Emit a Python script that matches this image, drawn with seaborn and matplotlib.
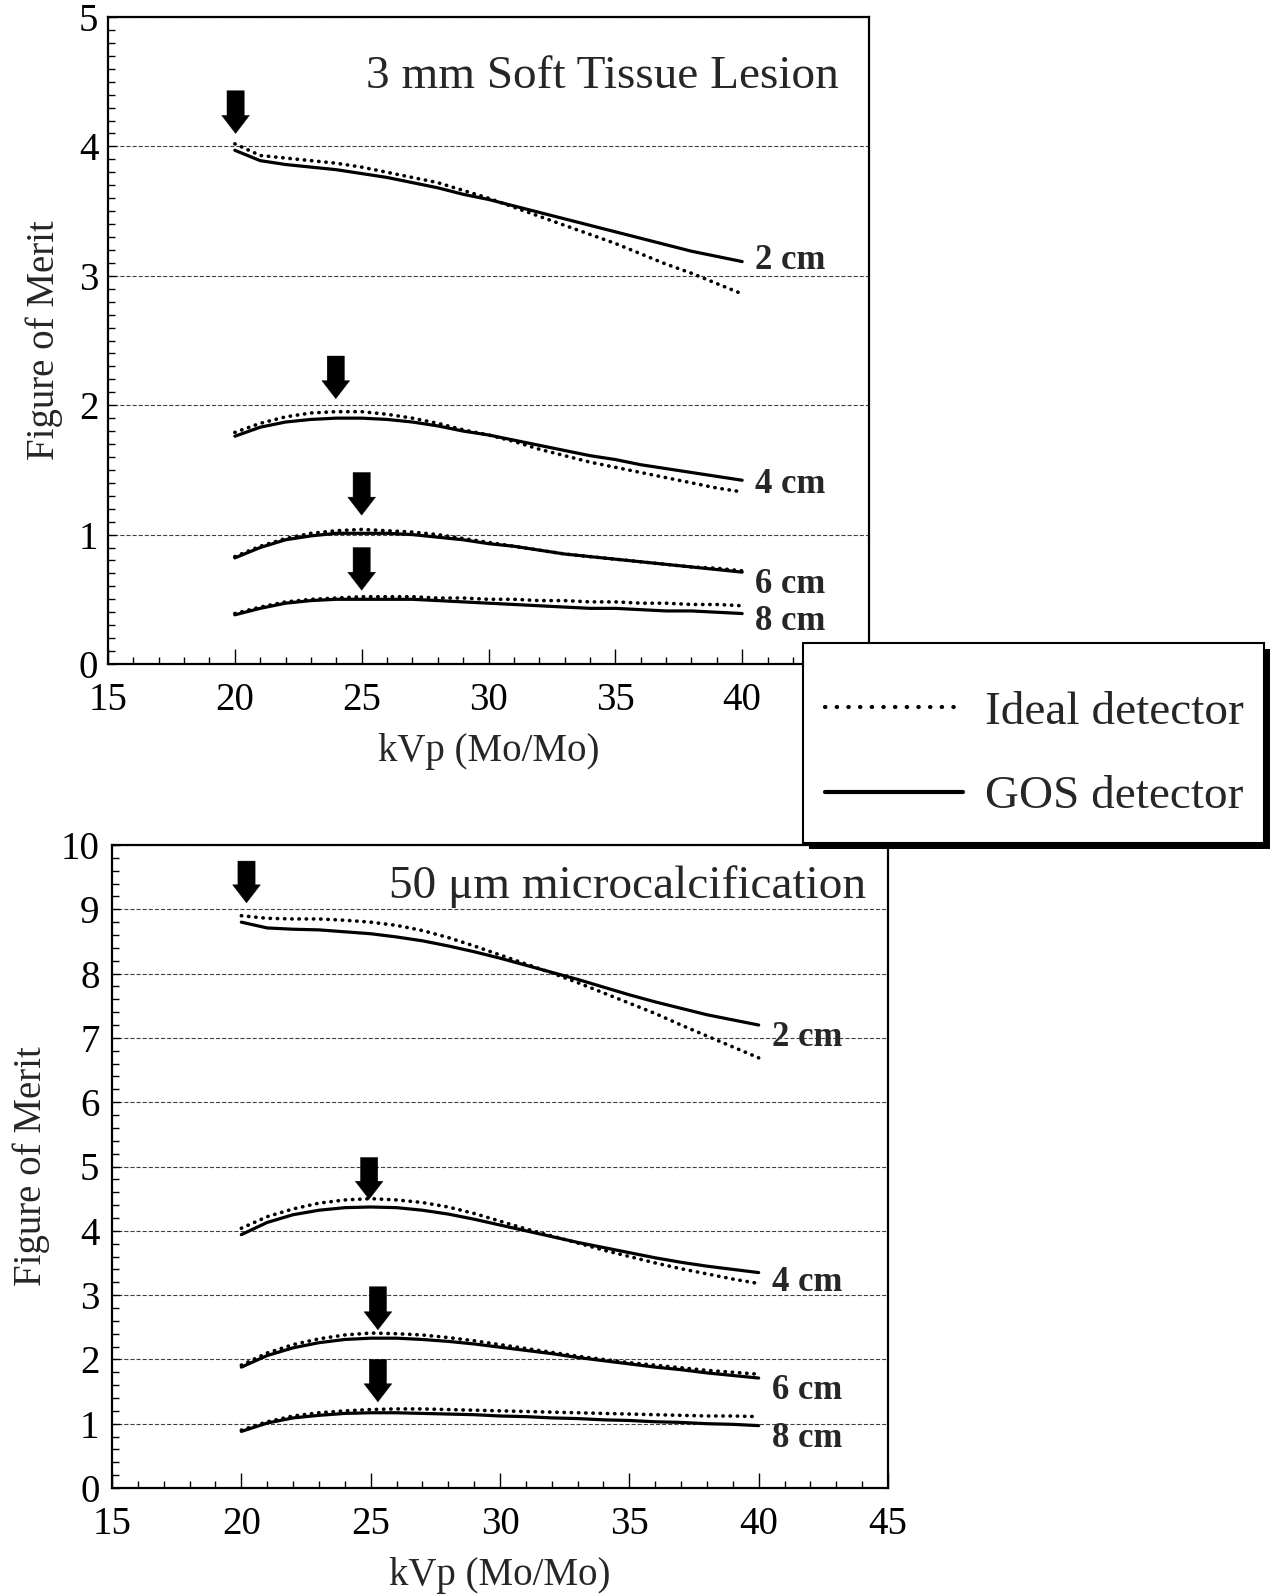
import numpy as np
import pandas as pd
import matplotlib
matplotlib.use("Agg")
import matplotlib.pyplot as plt
import seaborn as sns
from matplotlib.lines import Line2D
from matplotlib.patches import Rectangle
from matplotlib.transforms import IdentityTransform
from matplotlib.ticker import MultipleLocator

# ---------------- data ----------------
kvp = list(range(20, 41))
thicknesses = ["2 cm", "4 cm", "6 cm", "8 cm"]
detectors = ["Ideal detector", "GOS detector"]

# 3 mm soft tissue lesion
lesion_ideal_2cm = [4.02, 3.93, 3.91, 3.89, 3.87, 3.84, 3.80, 3.76, 3.72, 3.66, 3.60,
                    3.53, 3.46, 3.39, 3.32, 3.25, 3.17, 3.09, 3.02, 2.94, 2.86]
lesion_gos_2cm = [3.97, 3.89, 3.86, 3.84, 3.82, 3.79, 3.76, 3.72, 3.68, 3.63, 3.59,
                  3.54, 3.49, 3.44, 3.39, 3.34, 3.29, 3.24, 3.19, 3.15, 3.11]
lesion_ideal_4cm = [1.79, 1.86, 1.91, 1.94, 1.95, 1.95, 1.93, 1.90, 1.86, 1.81, 1.77,
                    1.72, 1.66, 1.61, 1.56, 1.52, 1.48, 1.44, 1.40, 1.36, 1.33]
lesion_gos_4cm = [1.76, 1.83, 1.87, 1.89, 1.90, 1.90, 1.89, 1.87, 1.84, 1.80, 1.77,
                  1.73, 1.69, 1.65, 1.61, 1.58, 1.54, 1.51, 1.48, 1.45, 1.42]
lesion_ideal_6cm = [0.83, 0.91, 0.97, 1.01, 1.03, 1.04, 1.03, 1.02, 1.00, 0.97, 0.94,
                    0.91, 0.88, 0.85, 0.83, 0.81, 0.79, 0.77, 0.75, 0.74, 0.72]
lesion_gos_6cm = [0.82, 0.90, 0.96, 0.99, 1.01, 1.01, 1.01, 1.00, 0.98, 0.96, 0.93,
                  0.91, 0.88, 0.85, 0.83, 0.81, 0.79, 0.77, 0.75, 0.73, 0.71]
lesion_ideal_8cm = [0.39, 0.44, 0.48, 0.50, 0.51, 0.52, 0.52, 0.52, 0.51, 0.51, 0.50,
                    0.50, 0.49, 0.49, 0.48, 0.48, 0.47, 0.47, 0.46, 0.46, 0.45]
lesion_gos_8cm = [0.38, 0.43, 0.47, 0.49, 0.50, 0.50, 0.50, 0.50, 0.49, 0.48, 0.47,
                  0.46, 0.45, 0.44, 0.43, 0.43, 0.42, 0.41, 0.41, 0.40, 0.39]

# 50 um microcalcification
calc_ideal_2cm = [8.90, 8.86, 8.85, 8.85, 8.83, 8.80, 8.75, 8.67, 8.56, 8.43, 8.29,
                  8.15, 8.01, 7.86, 7.70, 7.54, 7.38, 7.20, 7.03, 6.86, 6.69]
calc_gos_2cm = [8.80, 8.71, 8.69, 8.68, 8.65, 8.62, 8.57, 8.51, 8.43, 8.34, 8.24,
                8.13, 8.02, 7.91, 7.79, 7.67, 7.56, 7.46, 7.36, 7.28, 7.20]
calc_ideal_4cm = [4.04, 4.22, 4.34, 4.43, 4.48, 4.50, 4.48, 4.44, 4.37, 4.27, 4.15,
                  4.03, 3.92, 3.81, 3.70, 3.60, 3.50, 3.41, 3.33, 3.25, 3.18]
calc_gos_4cm = [3.94, 4.13, 4.25, 4.32, 4.36, 4.37, 4.36, 4.32, 4.26, 4.18, 4.09,
                4.00, 3.91, 3.82, 3.74, 3.66, 3.58, 3.51, 3.45, 3.40, 3.35]
calc_ideal_6cm = [1.91, 2.10, 2.23, 2.32, 2.38, 2.41, 2.40, 2.38, 2.34, 2.29, 2.23,
                  2.17, 2.11, 2.05, 2.00, 1.95, 1.91, 1.87, 1.83, 1.80, 1.77]
calc_gos_6cm = [1.88, 2.06, 2.18, 2.26, 2.31, 2.33, 2.33, 2.31, 2.28, 2.24, 2.19,
                2.14, 2.09, 2.03, 1.98, 1.93, 1.88, 1.84, 1.79, 1.75, 1.71]
calc_ideal_8cm = [0.90, 1.03, 1.12, 1.17, 1.20, 1.22, 1.23, 1.23, 1.22, 1.21, 1.20,
                  1.19, 1.18, 1.17, 1.16, 1.15, 1.14, 1.13, 1.12, 1.12, 1.11]
calc_gos_8cm = [0.88, 1.01, 1.09, 1.13, 1.16, 1.17, 1.17, 1.16, 1.15, 1.14, 1.12,
                1.11, 1.09, 1.08, 1.06, 1.05, 1.03, 1.02, 1.00, 0.99, 0.97]

# optimum kVp arrows (x, tip value, tail value)
lesion_arrow_x = [20.03, 23.98, 25.0, 25.0]
lesion_arrow_tip = [4.10, 2.05, 1.15, 0.57]
lesion_arrow_tail = [4.43, 2.38, 1.48, 0.90]
calc_arrow_x = [20.2, 24.94, 25.28, 25.28]
calc_arrow_tip = [9.10, 4.49, 2.46, 1.34]
calc_arrow_tail = [9.75, 5.14, 3.13, 2.00]

# thickness label heights (baseline)
lesion_label_y = [3.05, 1.32, 0.55, 0.26]
calc_label_y = [6.88, 3.06, 1.38, 0.64]

lesion_title = "3 mm Soft Tissue Lesion"
calc_title = "50 \u03bcm microcalcification"

# ---------------- build table ----------------
rows = []
series = {
    ("lesion", "Ideal detector"): [lesion_ideal_2cm, lesion_ideal_4cm, lesion_ideal_6cm, lesion_ideal_8cm],
    ("lesion", "GOS detector"): [lesion_gos_2cm, lesion_gos_4cm, lesion_gos_6cm, lesion_gos_8cm],
    ("calc", "Ideal detector"): [calc_ideal_2cm, calc_ideal_4cm, calc_ideal_6cm, calc_ideal_8cm],
    ("calc", "GOS detector"): [calc_gos_2cm, calc_gos_4cm, calc_gos_6cm, calc_gos_8cm],
}
for (panel, det), lists in series.items():
    for th, vals in zip(thicknesses, lists):
        for k, v in zip(kvp, vals):
            rows.append(dict(panel=panel, detector=det, thickness=th, kVp=k, fom=v))
df = pd.DataFrame(rows)

# ---------------- style ----------------
sns.set_style("ticks")
plt.rcParams["font.family"] = ["Liberation Serif", "DejaVu Serif"]
plt.rcParams["lines.dash_capstyle"] = "round"
plt.rcParams["lines.solid_capstyle"] = "round"

W, H = 1270, 1596
fig = plt.figure(figsize=(W / 100, H / 100), dpi=100)
fig.patch.set_facecolor("white")

ax1 = fig.add_axes([108 / W, 1 - 664 / H, 761 / W, 647 / H])
ax2 = fig.add_axes([112 / W, 1 - 1488 / H, 776 / W, 643 / H])

dash_map = {"Ideal detector": (0.1, 1.9), "GOS detector": ""}
size_map = {"Ideal detector": 2.6, "GOS detector": 2.3}

panels = [
    (ax1, "lesion", 5, 0.1, lesion_title, 43.8, 4.45, lesion_arrow_x, lesion_arrow_tip,
     lesion_arrow_tail, lesion_label_y, 7, -0.059),
    (ax2, "calc", 10, 0.2, calc_title, 44.15, 9.17, calc_arrow_x, calc_arrow_tip,
     calc_arrow_tail, calc_label_y, 9, -0.080),
]

for (ax, key, ymax, yminor, title, tx, ty, ax_x, ax_tip, ax_tail, lab_y, ypad, ylx) in panels:
    sub = df[df.panel == key]
    sns.lineplot(data=sub, x="kVp", y="fom", style="detector", size="detector",
                 units="thickness", estimator=None, color="black", dashes=dash_map,
                 sizes=size_map, legend=False, ax=ax, style_order=detectors,
                 size_order=detectors)
    ax.set_xlim(15, 45)
    ax.set_ylim(0, ymax)
    ax.xaxis.set_major_locator(MultipleLocator(5))
    ax.xaxis.set_minor_locator(MultipleLocator(1))
    ax.yaxis.set_major_locator(MultipleLocator(1))
    ax.yaxis.set_minor_locator(MultipleLocator(yminor))
    ax.grid(axis="y", which="major", linestyle=(0, (3, 2.5)), linewidth=0.8, color="0.25")
    ax.set_axisbelow(True)
    for s in ax.spines.values():
        s.set_visible(True)
        s.set_linewidth(1.6)
        s.set_color("black")
    ax.tick_params(axis="both", which="both", direction="in", labelsize=28, color="black",
                   labelcolor="black")
    ax.tick_params(axis="x", which="major", length=11, width=1.0, pad=13)
    ax.tick_params(axis="x", which="minor", length=5, width=1.0)
    ax.tick_params(axis="y", which="major", length=6, width=1.0, pad=ypad)
    ax.tick_params(axis="y", which="minor", length=5, width=1.0)
    ax.set_xlabel("kVp (Mo/Mo)", fontsize=28, labelpad=10)
    ax.set_ylabel("Figure of Merit", fontsize=28)
    ax.yaxis.set_label_coords(ylx, 0.5)
    ax.text(tx, ty, title, ha="right", va="baseline", fontsize=34)
    for th, ly in zip(thicknesses, lab_y):
        ax.text(40.5, ly, th, ha="left", va="baseline", fontsize=25, fontweight="bold")
    for x, tip, tail in zip(ax_x, ax_tip, ax_tail):
        ax.annotate("", xy=(x, tip), xytext=(x, tail),
                    arrowprops=dict(arrowstyle="simple,head_length=0.65,head_width=1.0,tail_width=0.62",
                                    mutation_scale=20, color="black", lw=0.3,
                                    shrinkA=0, shrinkB=0))

# ---------------- legend (framed box with solid shadow) ----------------
box_x0, box_y0, box_w, box_h = 803, 643, 461, 200   # pixels from top-left
shadow = Rectangle((box_x0 + 6, H - (box_y0 + box_h) - 6), box_w, box_h,
                   transform=IdentityTransform(), facecolor="black", edgecolor="none", zorder=8)
frame = Rectangle((box_x0, H - (box_y0 + box_h)), box_w, box_h,
                  transform=IdentityTransform(), facecolor="white", edgecolor="black",
                  linewidth=1.5, zorder=9)
fig.add_artist(shadow)
fig.add_artist(frame)

handles = [Line2D([], [], color="black", linewidth=3.0, linestyle=(0, (0.1, 2.7))),
           Line2D([], [], color="black", linewidth=3.0)]
leg = fig.legend(handles, detectors, loc="center left",
                 bbox_to_anchor=(825 / W, 1 - 754.5 / H), bbox_transform=fig.transFigure,
                 borderaxespad=0, frameon=False, fontsize=34, handlelength=2.92,
                 handletextpad=0.47, labelspacing=0.88, borderpad=0)
leg.set_zorder(10)

fig.savefig("out.png", dpi=100, facecolor="white")
